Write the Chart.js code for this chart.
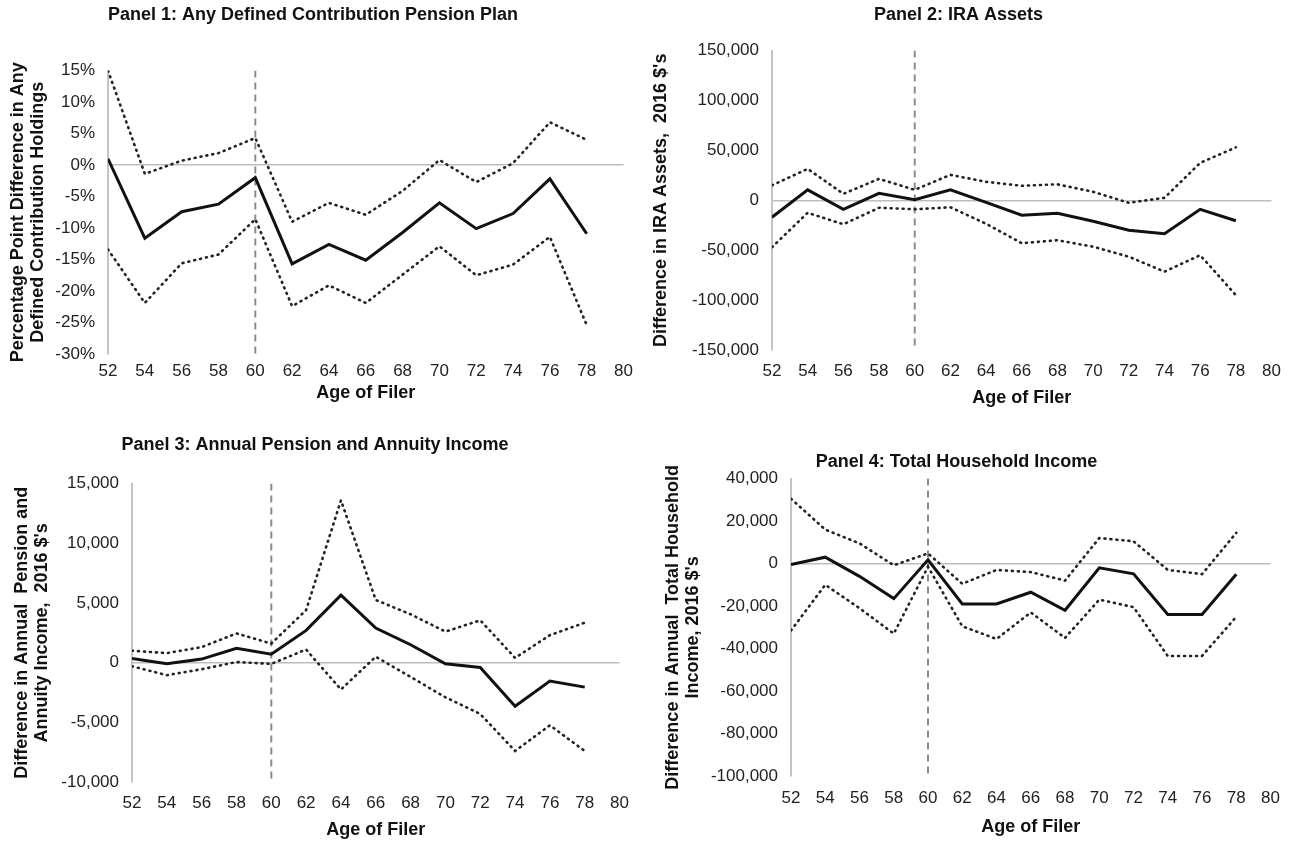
<!DOCTYPE html>
<html>
<head>
<meta charset="utf-8">
<script src="https://cdn.jsdelivr.net/npm/chart.js@4.4.1/dist/chart.umd.min.js"></script>
<style>
  body { margin: 0; background: #fff; }
  #wrap { position: relative; width: 1292px; height: 842px; }
  canvas { position: absolute; }
</style>
</head>
<body>
<div id="wrap">
  <canvas id="panel1" width="640" height="420" style="left:0;top:0"></canvas>
  <canvas id="panel2" width="652" height="420" style="left:640px;top:0"></canvas>
  <canvas id="panel3" width="640" height="422" style="left:0;top:420px"></canvas>
  <canvas id="panel4" width="652" height="422" style="left:640px;top:420px"></canvas>
</div>
<script>
// ages on the x axis
var ages = [52, 54, 56, 58, 60, 62, 64, 66, 68, 70, 72, 74, 76, 78];
var retireAge = 60;

// Panel 1: any DC plan (percentage points)
var p1Est = [1, -11.6, -7.4, -6.2, -2.0, -15.7, -12.6, -15.1, -10.7, -6.0, -10.1, -7.7, -2.2, -10.9];
var p1Hi  = [15, -1.4, 0.7, 1.9, 4.3, -9.0, -6.0, -7.9, -4.1, 0.8, -2.7, 0.3, 6.8, 4.0];
var p1Lo  = [-13.4, -21.9, -15.6, -14.2, -8.6, -22.4, -19.1, -21.9, -17.4, -12.9, -17.5, -15.8, -11.4, -25.4];

// Panel 2: IRA assets
var p2Est = [-17000, 10500, -9000, 7000, 500, 10500, -2000, -15000, -13000, -21000, -30000, -33500, -9000, -20500];
var p2Hi  = [15000, 31500, 6500, 21500, 10500, 25500, 18500, 14500, 16000, 8500, -2500, 2500, 37500, 53000];
var p2Lo  = [-47000, -12500, -24000, -7500, -9000, -7000, -23500, -43000, -40000, -46500, -56500, -71500, -55000, -95000];

// Panel 3: pension and annuity income
var p3Est = [350, -100, 300, 1200, 700, 2700, 5650, 2900, 1500, -100, -400, -3650, -1550, -2050];
var p3Hi  = [1000, 800, 1300, 2450, 1600, 4400, 13600, 5250, 4050, 2600, 3550, 400, 2300, 3350];
var p3Lo  = [-300, -1050, -550, 50, -100, 1100, -2250, 500, -1200, -2900, -4300, -7400, -5250, -7400];

// Panel 4: total household income
var p4Est = [-500, 3000, -6000, -16500, 1800, -19000, -19000, -13500, -22000, -2000, -4800, -24000, -24000, -5000];
var p4Hi  = [30500, 16000, 9500, -800, 4800, -9500, -3000, -4000, -8000, 12000, 10500, -3000, -5000, 14500];
var p4Lo  = [-31500, -10000, -21000, -33000, -1500, -29500, -35500, -23000, -35000, -17000, -20500, -43500, -43500, -25000];

var FONT = '"Liberation Sans", Arial, sans-serif';

function pts(vals) {
    return ages.map(function(a, i) { return { x: a, y: vals[i] }; });
}

function numFmt(v) { return v.toLocaleString('en-US'); }

function makePanel(id, o) {
    var ctx = document.getElementById(id).getContext('2d');
    return new Chart(ctx, {
        type: 'line',
        data: {
            datasets: [
                { data: pts(o.est), borderColor: '#111', borderWidth: 3, pointRadius: 0, tension: 0 },
                { data: pts(o.hi), borderColor: '#222', borderWidth: 2.6, borderDash: [1, 5], borderCapStyle: 'round', pointRadius: 0 },
                { data: pts(o.lo), borderColor: '#222', borderWidth: 2.6, borderDash: [1, 5], borderCapStyle: 'round', pointRadius: 0 },
                // dashed marker at age 60
                { data: [{ x: retireAge, y: o.yMax }, { x: retireAge, y: o.yMin }], borderColor: '#8c8c8c', borderWidth: 2, borderDash: [7, 5], pointRadius: 0 }
            ]
        },
        options: {
            responsive: false,
            animation: false,
            layout: { padding: { left: 0, right: o.padRight, top: 0, bottom: 0 } },
            plugins: {
                legend: { display: false },
                tooltip: { enabled: false },
                title: {
                    display: true,
                    text: o.title,
                    color: '#111',
                    font: { family: FONT, size: 18, weight: 'bold', lineHeight: 1.2 },
                    padding: o.titlePad
                }
            },
            scales: {
                x: {
                    type: 'linear',
                    min: 52, max: 80,
                    border: { display: false },
                    grid: { display: false, drawTicks: false },
                    ticks: { stepSize: 2, autoSkip: false, maxRotation: 0, padding: o.xTickPad, color: '#222',
                             font: { family: FONT, size: 17 } },
                    title: { display: true, text: 'Age of Filer', color: '#111',
                             font: { family: FONT, size: 18, weight: 'bold', lineHeight: 1.2 },
                             padding: { top: 0, bottom: o.xTitlePad } },
                    afterFit: function(s) { s.height = o.xHeight; }
                },
                y: {
                    min: o.yMin, max: o.yMax,
                    border: { display: true, color: '#c4c4c4', width: 2 },
                    grid: {
                        drawTicks: false,
                        lineWidth: 1.5,
                        color: function(c) { return c.tick && c.tick.value === 0 ? '#bdbdbd' : 'rgba(0,0,0,0)'; }
                    },
                    ticks: { stepSize: o.yStep, padding: 13, color: '#222', font: { family: FONT, size: 17 },
                             callback: o.fmt },
                    title: { display: true, text: o.yTitle, color: '#111',
                             font: { family: FONT, size: 18, weight: 'bold', lineHeight: 1.1 },
                             padding: { top: o.yTitlePad, bottom: 0 } },
                    afterFit: function(s) { s.width = o.yWidth; }
                }
            }
        }
    });
}

makePanel('panel1', {
    est: p1Est, hi: p1Hi, lo: p1Lo,
    yMin: -30, yMax: 15, yStep: 5,
    fmt: function(v) { return v + '%'; },
    title: 'Panel 1: Any Defined Contribution Pension Plan',
    titlePad: { top: 4, bottom: 45 },
    yTitle: ['Percentage Point Difference in Any', 'Defined Contribution Holdings'],
    yTitlePad: 8, yWidth: 108, padRight: 14,
    xHeight: 66, xTickPad: 7, xTitlePad: 16
});

makePanel('panel2', {
    est: p2Est, hi: p2Hi, lo: p2Lo,
    yMin: -150000, yMax: 150000, yStep: 50000,
    fmt: numFmt,
    title: 'Panel 2: IRA Assets',
    titlePad: { top: 4, bottom: 25 },
    yTitle: "Difference in IRA Assets,  2016 $'s",
    yTitlePad: 11, yWidth: 132, padRight: 15,
    xHeight: 70, xTickPad: 11, xTitlePad: 11
});

makePanel('panel3', {
    est: p3Est, hi: p3Hi, lo: p3Lo,
    yMin: -10000, yMax: 15000, yStep: 5000,
    fmt: numFmt,
    title: 'Panel 3: Annual Pension and Annuity Income',
    titlePad: { top: 14, bottom: 28 },
    yTitle: ['Difference in Annual  Pension and', "Annuity Income,  2016 $'s"],
    yTitlePad: 12, yWidth: 132, padRight: 10,
    xHeight: 60, xTickPad: 11, xTitlePad: 1
});

makePanel('panel4', {
    est: p4Est, hi: p4Hi, lo: p4Lo,
    yMin: -100000, yMax: 40000, yStep: 20000,
    fmt: numFmt,
    title: 'Panel 4: Total Household Income',
    titlePad: { top: 31, bottom: 6 },
    yTitle: ['Difference in Annual  Total Household', "Income, 2016 $'s"],
    yTitlePad: 23, yWidth: 151, padRight: 19,
    xHeight: 66, xTickPad: 12, xTitlePad: 4
});
</script>
</body>
</html>
